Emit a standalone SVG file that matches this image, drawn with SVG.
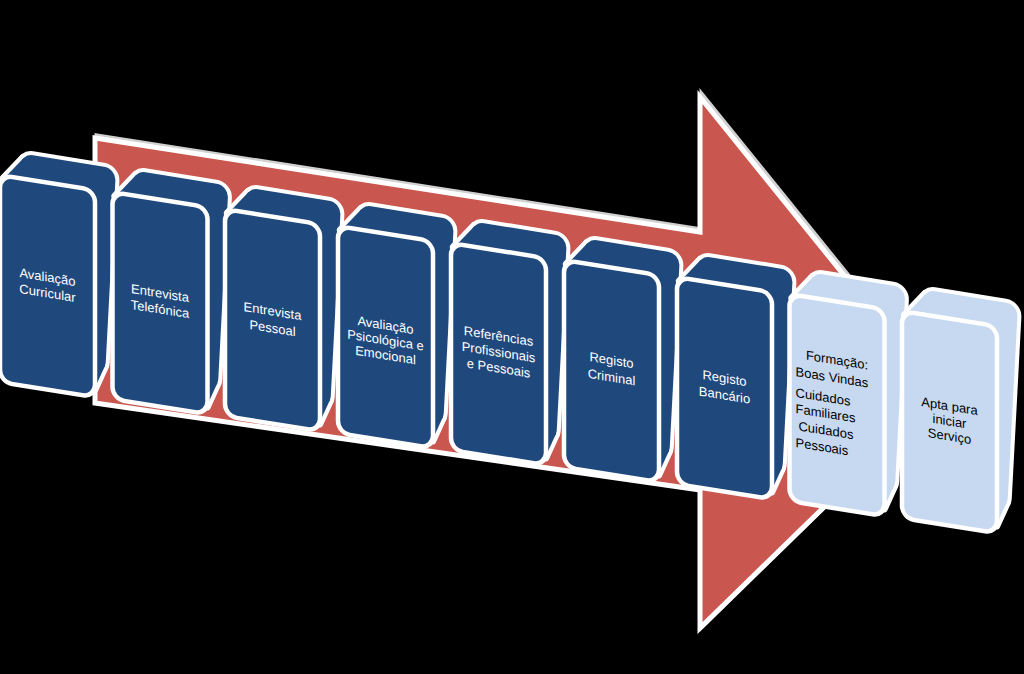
<svg xmlns="http://www.w3.org/2000/svg" xmlns:xlink="http://www.w3.org/1999/xlink" width="1024" height="674" viewBox="0 0 1024 674">
<style>
.bg{fill:#000}
.arw{fill:#C9574F;stroke:#fff;stroke-width:5;stroke-linejoin:miter}
.arwb{fill:#D6D6D6;stroke:#D0D0D0;stroke-width:5;stroke-linejoin:miter}
.dk{fill:#1F497D}
.lt{fill:#C6D9F1}
.o{stroke:#fff;stroke-width:8;stroke-linejoin:round}
.f{stroke:none}
.fr{stroke:#fff;stroke-width:4.5}
text{font-family:"Liberation Sans",Arial,sans-serif;font-size:13px}
.tw{fill:#fff;text-anchor:middle}
.tk{fill:#000}
.c{text-anchor:middle}
</style>
<defs>
<g id="ext">
<rect x="0" y="0" width="95" height="207" rx="12" transform="translate(21,-25) skewX(-3)"/>
<polygon points="2.8,4.3 23.6,-20.7 104.8,174.4 94.2,199.4"/>
</g>
<g id="box">
<use xlink:href="#ext" class="o"/>
<use xlink:href="#ext" class="f"/>
<rect class="fr" x="0" y="0" width="95" height="207" rx="12"/>
</g>
</defs>
<rect class="bg" x="0" y="0" width="1024" height="674"/>
<g id="arrow">
<polygon class="arwb" points="97,136 702,230 702,95 942,392 702,626 702,488 97,401"/>
<polygon class="arw" points="95,138 700,232 700,97 940,394 700,628 700,490 95,403"/>
</g>
<g id="connectors"></g>
<g id="n1" class="dk" transform="matrix(1,0.16,0,1,0,175)">
<use xlink:href="#box"/>
<text class="tw" x="47.5" y="99">Avaliação</text>
<text class="tw" x="47.5" y="115">Curricular</text>
</g>
<g id="n2" class="dk" transform="matrix(1,0.16,0,1,112.5,192)">
<use xlink:href="#box"/>
<text class="tw" x="47.5" y="98">Entrevista</text>
<text class="tw" x="47.5" y="114">Telefónica</text>
</g>
<g id="n3" class="dk" transform="matrix(1,0.16,0,1,225,209)">
<use xlink:href="#box"/>
<text class="tw" x="47.5" y="99">Entrevista</text>
<text class="tw" x="47.5" y="116">Pessoal</text>
</g>
<g id="n4" class="dk" transform="matrix(1,0.16,0,1,338,226)">
<use xlink:href="#box"/>
<text class="tw" x="47.5" y="96">Avaliação</text>
<text class="tw" x="47.5" y="111">Psicológica e</text>
<text class="tw" x="47.5" y="126">Emocional</text>
</g>
<g id="n5" class="dk" transform="matrix(1,0.16,0,1,451,243)">
<use xlink:href="#box"/>
<text class="tw" x="47.5" y="90">Referências</text>
<text class="tw" x="47.5" y="106">Profissionais</text>
<text class="tw" x="47.5" y="122">e Pessoais</text>
</g>
<g id="n6" class="dk" transform="matrix(1,0.16,0,1,564,260)">
<use xlink:href="#box"/>
<text class="tw" x="47.5" y="97">Registo</text>
<text class="tw" x="47.5" y="114">Criminal</text>
</g>
<g id="n7" class="dk" transform="matrix(1,0.16,0,1,677,277)">
<use xlink:href="#box"/>
<text class="tw" x="47.5" y="98">Registo</text>
<text class="tw" x="47.5" y="115">Bancário</text>
</g>
<g id="n8" class="lt" transform="matrix(1,0.16,0,1,789.5,294)">
<use xlink:href="#box"/>
<text class="tk c" x="47.5" y="63">Formação:</text>
<text class="tk" x="6" y="81">Boas Vindas</text>
<text class="tk" x="6" y="102">Cuidados</text>
<text class="tk" x="6" y="118">Familiares</text>
<text class="tk" x="9" y="135">Cuidados</text>
<text class="tk" x="6" y="152">Pessoais</text>
</g>
<g id="n9" class="lt" transform="matrix(1,0.16,0,1,902,311)">
<use xlink:href="#box"/>
<text class="tk c" x="47.5" y="92">Apta para</text>
<text class="tk c" x="47.5" y="107">iniciar</text>
<text class="tk c" x="47.5" y="122">Serviço</text>
</g>
</svg>
